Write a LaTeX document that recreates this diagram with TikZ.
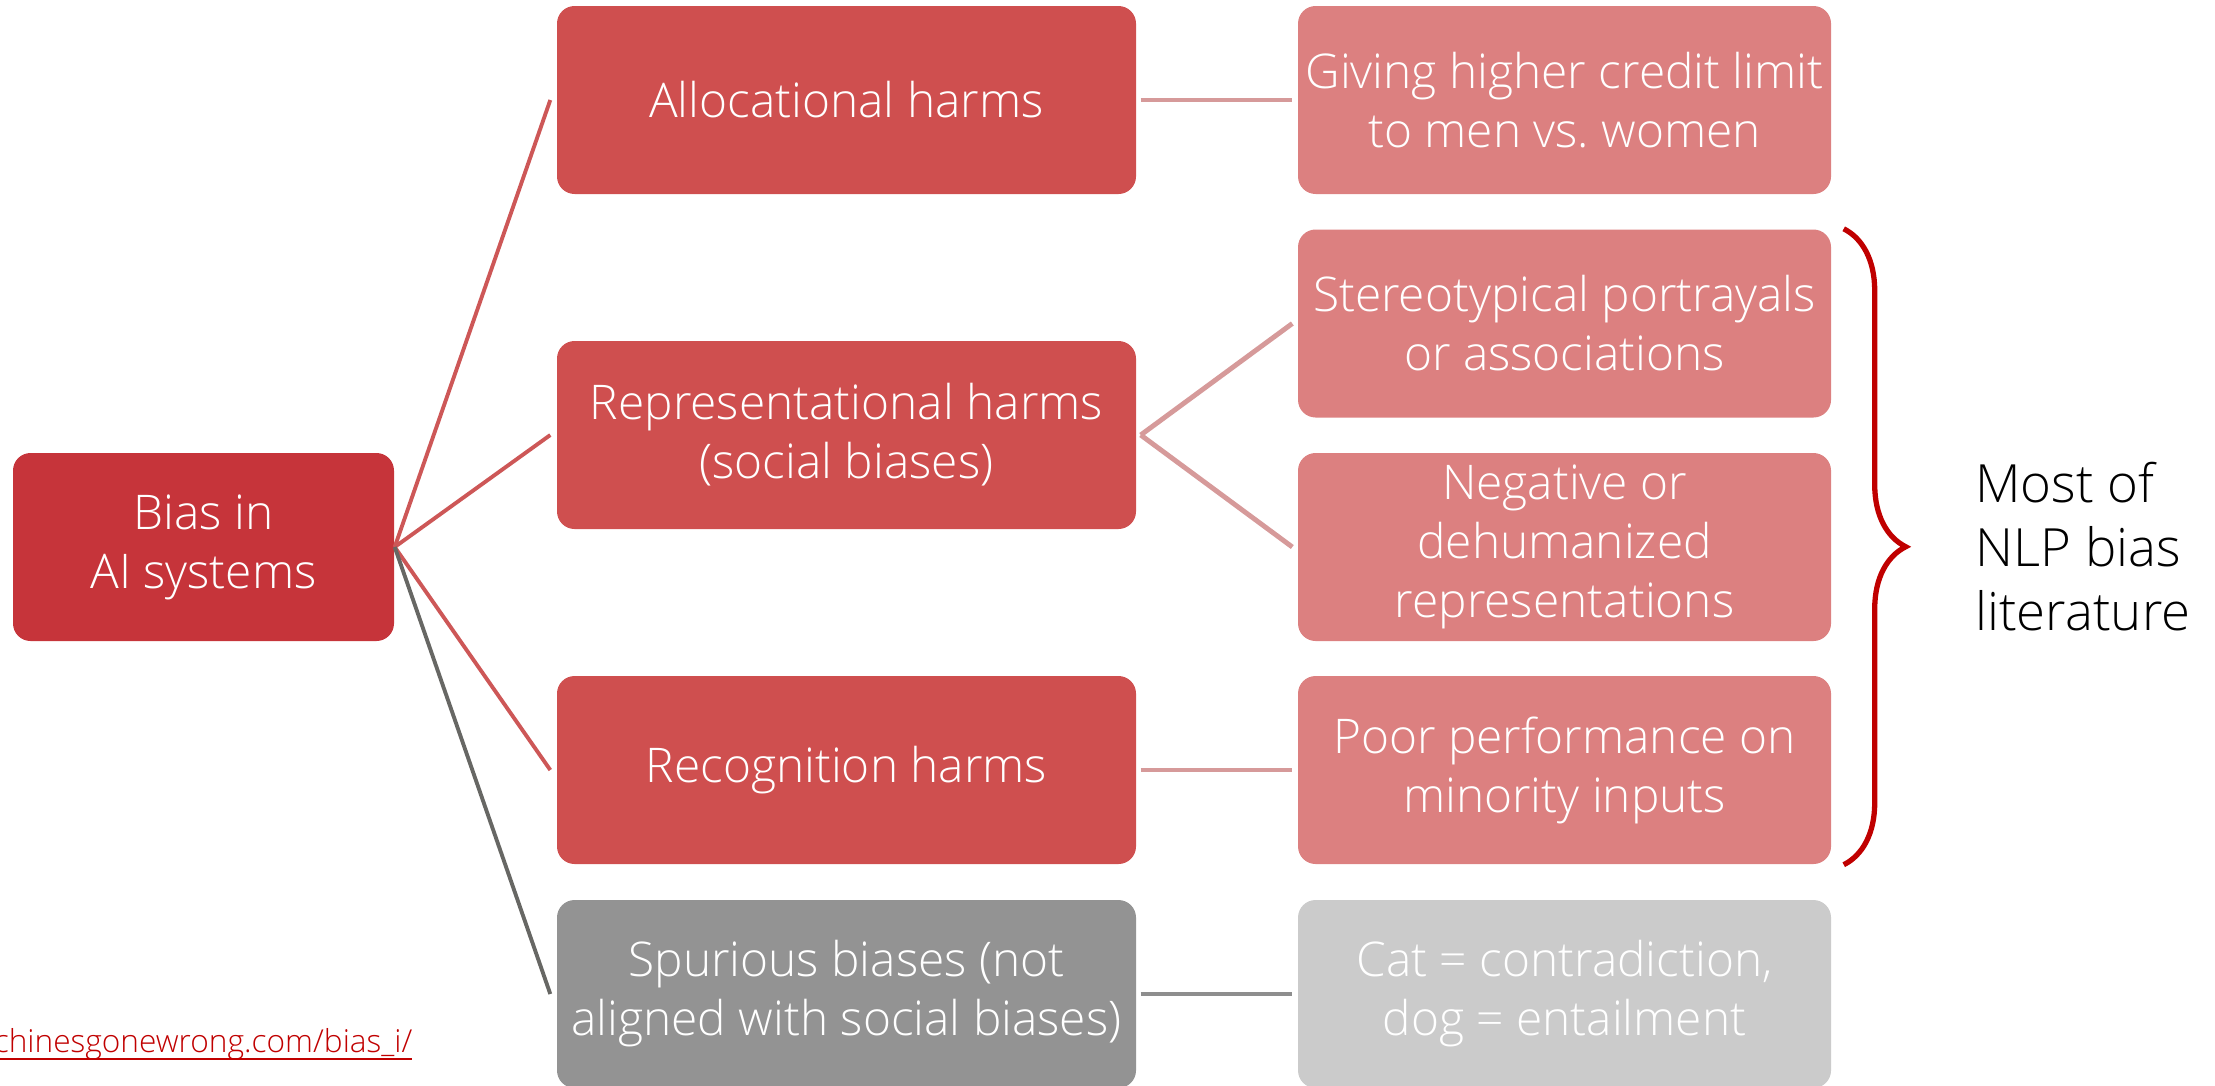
\documentclass[tikz,border=0pt]{standalone}
\usepackage{fontspec}
\setmainfont{Open Sans Light}
\usetikzlibrary{decorations.pathreplacing}

\definecolor{rootred}{HTML}{C6343A}
\definecolor{midred}{HTML}{CF4F4F}
\definecolor{leafred}{HTML}{DC8080}
\definecolor{midgray}{HTML}{939393}
\definecolor{leafgray}{HTML}{CBCBCB}
\definecolor{branchred}{HTML}{CD5757}
\definecolor{branchgray}{HTML}{676764}
\definecolor{twigred}{HTML}{D69A9A}
\definecolor{twiggray}{HTML}{8E8E8E}
\definecolor{bracered}{HTML}{C00000}

\newcommand{\srcunder}[1]{\setbox0\hbox{#1}\rlap{\rule[-2.2pt]{\wd0}{0.6pt}}\box0}

\begin{document}
\begin{tikzpicture}[
    box/.style={rounded corners=5pt, text=white, align=center, inner sep=0pt,
      font=\fontsize{13.6}{16.8}\selectfont, minimum height=1.88cm},
    rootbox/.style={box, fill=rootred, minimum width=3.81cm},
    midbox/.style={box, fill=midred, minimum width=5.79cm},
    midgraybox/.style={box, fill=midgray, minimum width=5.79cm},
    leafbox/.style={box, fill=leafred, minimum width=5.33cm},
    leafgraybox/.style={box, fill=leafgray, minimum width=5.33cm},
    branch/.style={draw=branchred, line width=1.1pt},
    twig/.style={draw=twigred, line width=1.4pt}
  ]
  \useasboundingbox (0, 0) rectangle (22.15, -10.85);

  % tree
  \node[rootbox] (bias) at (2.035, -5.47) {Bias in\\AI systems};

  \node[midbox] (alloc) at (8.465, -1.00) {Allocational harms};
  \node[midbox] (repr) at (8.465, -4.35) {Representational harms\\(social biases)};
  \node[midbox] (recog) at (8.465, -7.70) {Recognition harms};
  \node[midgraybox] (spur) at (8.465, -9.94) {Spurious biases (not\\aligned with social biases)};

  \node[leafbox] (credit) at (15.645, -1.00) {Giving higher credit limit\\to men vs.\ women};
  \node[leafbox] (stereo) at (15.645, -3.235) {Stereotypical portrayals\\or associations};
  \node[leafbox] (negative) at (15.645, -5.47) {Negative or\\dehumanized\\representations};
  \node[leafbox] (poor) at (15.645, -7.70) {Poor performance on\\minority inputs};
  \node[leafgraybox] (cat) at (15.645, -9.94) {Cat = contradiction,\\dog = entailment};

  \draw[branch] (bias.east) -- ([xshift=-0.06cm]alloc.west);
  \draw[branch] (bias.east) -- ([xshift=-0.06cm]repr.west);
  \draw[branch] (bias.east) -- ([xshift=-0.06cm]recog.west);
  \draw[branch, draw=branchgray] (bias.east) -- ([xshift=-0.06cm]spur.west);

  \draw[twig] ([xshift=0.04cm]alloc.east) -- ([xshift=-0.05cm]credit.west);
  \draw[twig] ([xshift=0.04cm]repr.east) -- ([xshift=-0.05cm]stereo.west);
  \draw[twig] ([xshift=0.04cm]repr.east) -- ([xshift=-0.05cm]negative.west);
  \draw[twig] ([xshift=0.04cm]recog.east) -- ([xshift=-0.05cm]poor.west);
  \draw[twig, draw=twiggray] ([xshift=0.04cm]spur.east) -- ([xshift=-0.05cm]cat.west);

  % brace and note
  \draw[bracered, line width=1.5pt, decorate, decoration={brace, amplitude=0.62cm}]
    ([xshift=0.12cm]stereo.north east) -- ([xshift=0.12cm]poor.south east);
  \node[anchor=west, align=left, font=\fontsize{15}{18.2}\selectfont] (note) at (19.63, -5.47)
    {Most of\\NLP bias\\literature};

  % source link
  \node[anchor=base east, inner sep=0pt, text=bracered, font=\fontsize{9}{11}\selectfont] (link)
    at (4.13, -10.52) {\srcunder{machinesgonewrong.com/bias\_i/}};
\end{tikzpicture}
\end{document}
